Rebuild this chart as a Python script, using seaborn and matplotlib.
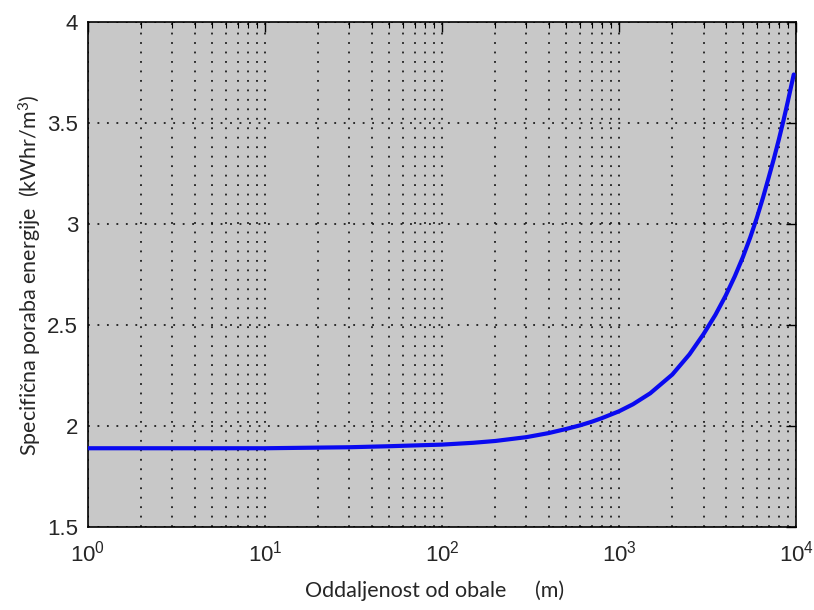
import numpy as np
import pandas as pd
import seaborn as sns
import matplotlib
matplotlib.use("Agg")
import matplotlib.pyplot as plt
from matplotlib.ticker import LogLocator, FixedLocator, NullFormatter

# ---- data ----
distance_m = [1, 10, 30, 50, 100, 150, 200, 300, 400, 500, 600, 700, 800, 1000,
              1200, 1500, 2000, 2500, 3000, 3500, 4000, 4500, 5000, 5500, 6000,
              6500, 7000, 7500, 8000, 8500, 9000, 9700]
energy_kwh_m3 = [1.89, 1.89, 1.895, 1.90, 1.908, 1.917, 1.926, 1.945, 1.965, 1.985,
                 2.003, 2.021, 2.039, 2.073, 2.108, 2.162, 2.255, 2.355, 2.455,
                 2.55, 2.645, 2.74, 2.835, 2.932, 3.03, 3.13, 3.23, 3.325, 3.42,
                 3.515, 3.61, 3.74]
y_ticks = [1.5, 2, 2.5, 3, 3.5, 4]
y_tick_labels = ["1.5", "2", "2.5", "3", "3.5", "4"]
x_ticks = [1, 10, 100, 1000, 10000]
x_tick_labels = [r"$\mathregular{10^{%d}}$" % e for e in range(5)]
x_label = "Oddaljenost od obale"
x_unit = "(m)"
y_label = r"Specifična poraba energije  (kWhr/m$\mathregular{^{3}}$)"

df = pd.DataFrame({"x": distance_m, "y": energy_kwh_m3})

sns.set_style("white", {"axes.facecolor": "#c8c8c8"})
plt.rcParams["font.family"] = ["Lato", "DejaVu Sans"]
tick_family = "Liberation Sans"
tick_size = 16

fig = plt.figure(figsize=(8.14, 6.10), dpi=100)
ax = fig.add_axes([0.108, 0.136, 0.870, 0.828])
ax.set_facecolor("#c8c8c8")

sns.lineplot(data=df, x="x", y="y", ax=ax, color="#0a0af0", linewidth=3, zorder=3)
ax.set_xscale("log")
ax.set_xlim(1, 10000)
ax.set_ylim(1.5, 4)

ax.xaxis.set_major_locator(FixedLocator(x_ticks))
ax.set_xticklabels(x_tick_labels, fontfamily=tick_family, fontsize=tick_size)
ax.xaxis.set_minor_locator(LogLocator(base=10, subs=np.arange(2, 10), numticks=20))
ax.xaxis.set_minor_formatter(NullFormatter())
ax.set_yticks(y_ticks)
ax.set_yticklabels(y_tick_labels, fontfamily=tick_family, fontsize=tick_size)

ax.tick_params(which="both", direction="in", top=True, right=True, color="black")
ax.tick_params(which="major", length=7, width=1)
ax.tick_params(which="minor", length=4, width=0.8)
ax.tick_params(axis="x", which="major", pad=10)
ax.tick_params(axis="y", which="major", pad=7)

gridstyle = dict(color="black", linestyle=(0, (1.2, 5)), linewidth=1.1)
ax.grid(True, which="major", axis="both", **gridstyle)
ax.grid(True, which="minor", axis="x", **gridstyle)
ax.set_axisbelow(True)
for s in ax.spines.values():
    s.set_color("black")
    s.set_linewidth(1.2)
    s.set_visible(True)

ax.set_xlabel("")
ax.set_ylabel("")
fig.text(406 / 814, 1 - 591 / 610, x_label, ha="center", va="center", fontsize=15.5)
fig.text(550 / 814, 1 - 591 / 610, x_unit, ha="center", va="center", fontsize=15.5)
fig.text(30 / 814, 1 - 275 / 610, y_label, ha="center", va="center",
         rotation=90, fontsize=15.5)

fig.savefig("out.png", dpi=100, facecolor="white")
